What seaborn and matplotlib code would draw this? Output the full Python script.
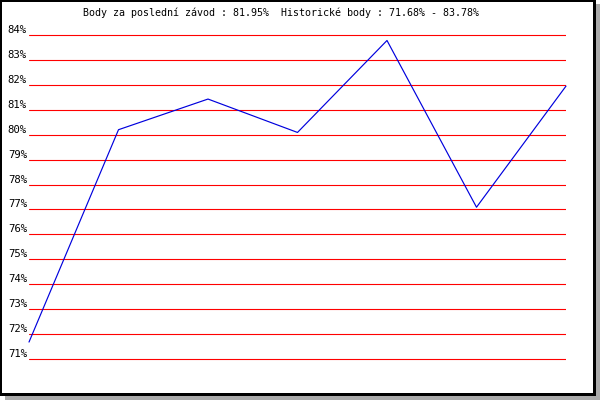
import matplotlib
matplotlib.use("Agg")
import matplotlib.pyplot as plt
import matplotlib.transforms as mtransforms
from matplotlib.patches import Rectangle
import seaborn as sns
import pandas as pd

races = [1, 2, 3, 4, 5, 6, 7]
points = [71.68, 80.2, 81.43, 80.09, 83.78, 77.09, 81.95]
tick_values = list(range(71, 85))
tick_labels = [f"{v}%" for v in tick_values]
title = "Body za poslední závod : 81.95%  Historické body : 71.68% - 83.78%"

sns.set_theme(style="white")
plt.rcParams['font.family'] = ['DejaVu Sans Mono', 'DejaVu Sans']

W, H = 600, 400
fig = plt.figure(figsize=(6, 4), dpi=100)
fig.patch.set_facecolor("white")

def px_rect(x0, y0, x1, y1, color, z):
    r = Rectangle((x0 / W, 1 - y1 / H), (x1 - x0) / W, (y1 - y0) / H,
                  transform=fig.transFigure, facecolor=color, edgecolor="none", zorder=z)
    fig.patches.append(r)

# shadow, frame, inner white
px_rect(5, 4, 600, 400, "#aaaaaa", -3)
px_rect(0, 0, 596, 396, "black", -2)
px_rect(2, 2, 593, 393, "white", -1)

# axes geometry: 84% at y=35 px, 71% at y=359 px
ppu = (359 - 35) / 13.0
ymin, ymax = 70.5, 84.5
top_px = 35 - (ymax - 84) * ppu
bot_px = 359 + (71 - ymin) * ppu
left_px, right_px = 29, 566
ax = fig.add_axes([left_px / W, 1 - bot_px / H, (right_px - left_px) / W, (bot_px - top_px) / H])
ax.patch.set_alpha(0)

df = pd.DataFrame({"race": races, "points": points})
sns.lineplot(data=df, x="race", y="points", ax=ax, color="#0000dd", linewidth=0.85)
for l in ax.lines:
    l.set_clip_on(False)

ax.set_xlim(races[0], races[-1])
ax.set_ylim(ymin, ymax)
ax.set_yticks(tick_values)
ax.set_yticklabels(tick_labels)
ax.set_xticks([])
ax.set_xlabel("")
ax.set_ylabel("")
for s in ax.spines.values():
    s.set_visible(False)
ax.yaxis.grid(True, color="#ff0000", linewidth=0.8)
ax.set_axisbelow(True)
ax.tick_params(axis="y", length=0, pad=1.5, labelsize=7.7, labelcolor="black")
offset = mtransforms.ScaledTranslation(0, 6.0 / 100, fig.dpi_scale_trans)
for lab in ax.get_yticklabels():
    lab.set_transform(lab.get_transform() + offset)

fig.text(83 / W, 1 - 13 / H, title, ha="left", va="center", fontsize=7.2, color="black")

fig.savefig("out.png", dpi=100)
